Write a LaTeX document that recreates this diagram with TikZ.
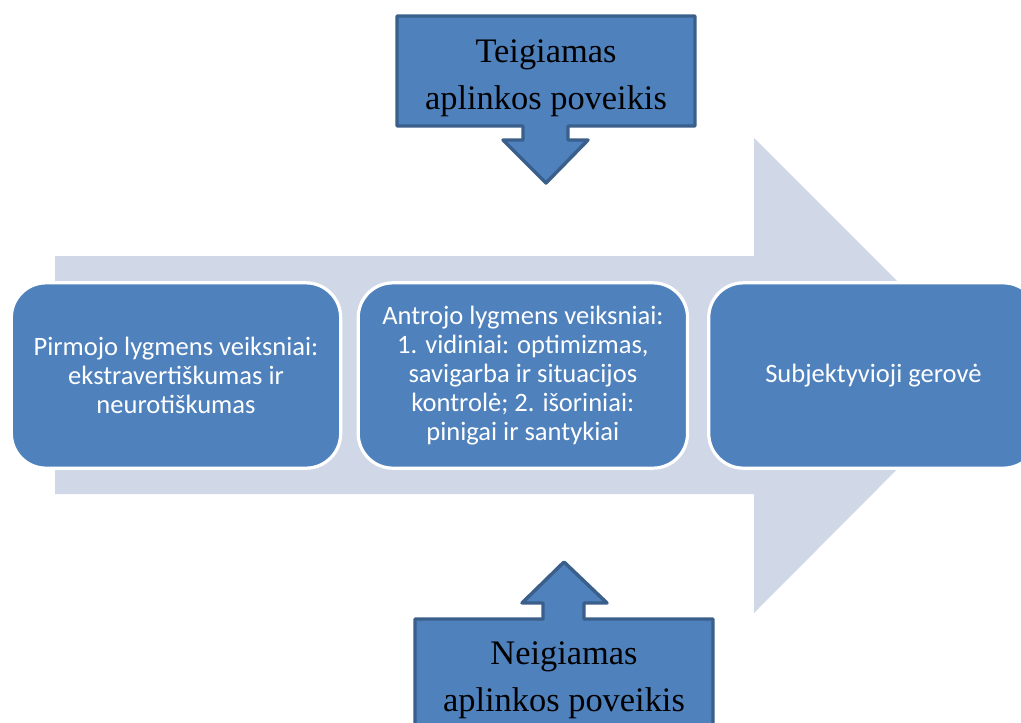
\documentclass[tikz,border=0pt]{standalone}
\usepackage{fontspec}
\setmainfont{Liberation Serif}
\newfontfamily\calibri{Carlito}
\usepackage{tikz}
\usetikzlibrary{positioning}

\definecolor{boxblue}{HTML}{4F81BD}
\definecolor{edgeblue}{HTML}{3A5F8B}
\definecolor{flowgrey}{HTML}{D0D8E8}

\begin{document}
\begin{tikzpicture}[x=0.75pt,y=-0.75pt,
  level/.style={rectangle, rounded corners=26pt, draw=white, line width=2.4pt, fill=boxblue,
    text=white, minimum width=247pt, minimum height=139pt, inner sep=0pt, align=center,
    font=\calibri\fontsize{19.9}{21.75}\selectfont},
  callout/.style={draw=edgeblue, fill=boxblue, line width=2.6pt, line join=round},
  callouttext/.style={align=center, font=\fontsize{25.8}{35.25}\selectfont},
]
\clip (0,0) rectangle (1021,722);

% big flow arrow in the background
\fill[flowgrey] (55,256) -- (754,256) -- (754,138) -- (991,375) -- (754,613)
     -- (754,494) -- (55,494) -- cycle;

\node(A) [level] at (176,375.5){Pirmojo lygmens veiksniai:\\ ekstravertiškumas ir\\ neurotiškumas};
\node(B) [level,right=10.75pt of A]{Antrojo lygmens veiksniai:\\ 1. vidiniai: optimizmas,\\ savigarba ir situacijos\\ kontrolė; 2. išoriniai:\\ pinigai ir santykiai};
\node(C) [level,right=13.5pt of B]{Subjektyvioji gerovė};

% positive influence, pointing down
\draw[callout] (397,16) -- (695,16) -- (695,126) -- (568,126) -- (568,140) -- (588,140)
     -- (546,183) -- (503,140) -- (523,140) -- (523,126) -- (397,126) -- cycle;
\node(pos) [callouttext] at (546,78){Teigiamas\\ aplinkos poveikis};

% negative influence, pointing up
\draw[callout] (415,760) -- (415,619) -- (543,619) -- (543,603) -- (522,603) -- (564,562)
     -- (607,603) -- (584,603) -- (584,619) -- (713,619) -- (713,760) -- cycle;
\node(neg) [callouttext] at (564,680){Neigiamas\\ aplinkos poveikis};

\end{tikzpicture}
\end{document}
